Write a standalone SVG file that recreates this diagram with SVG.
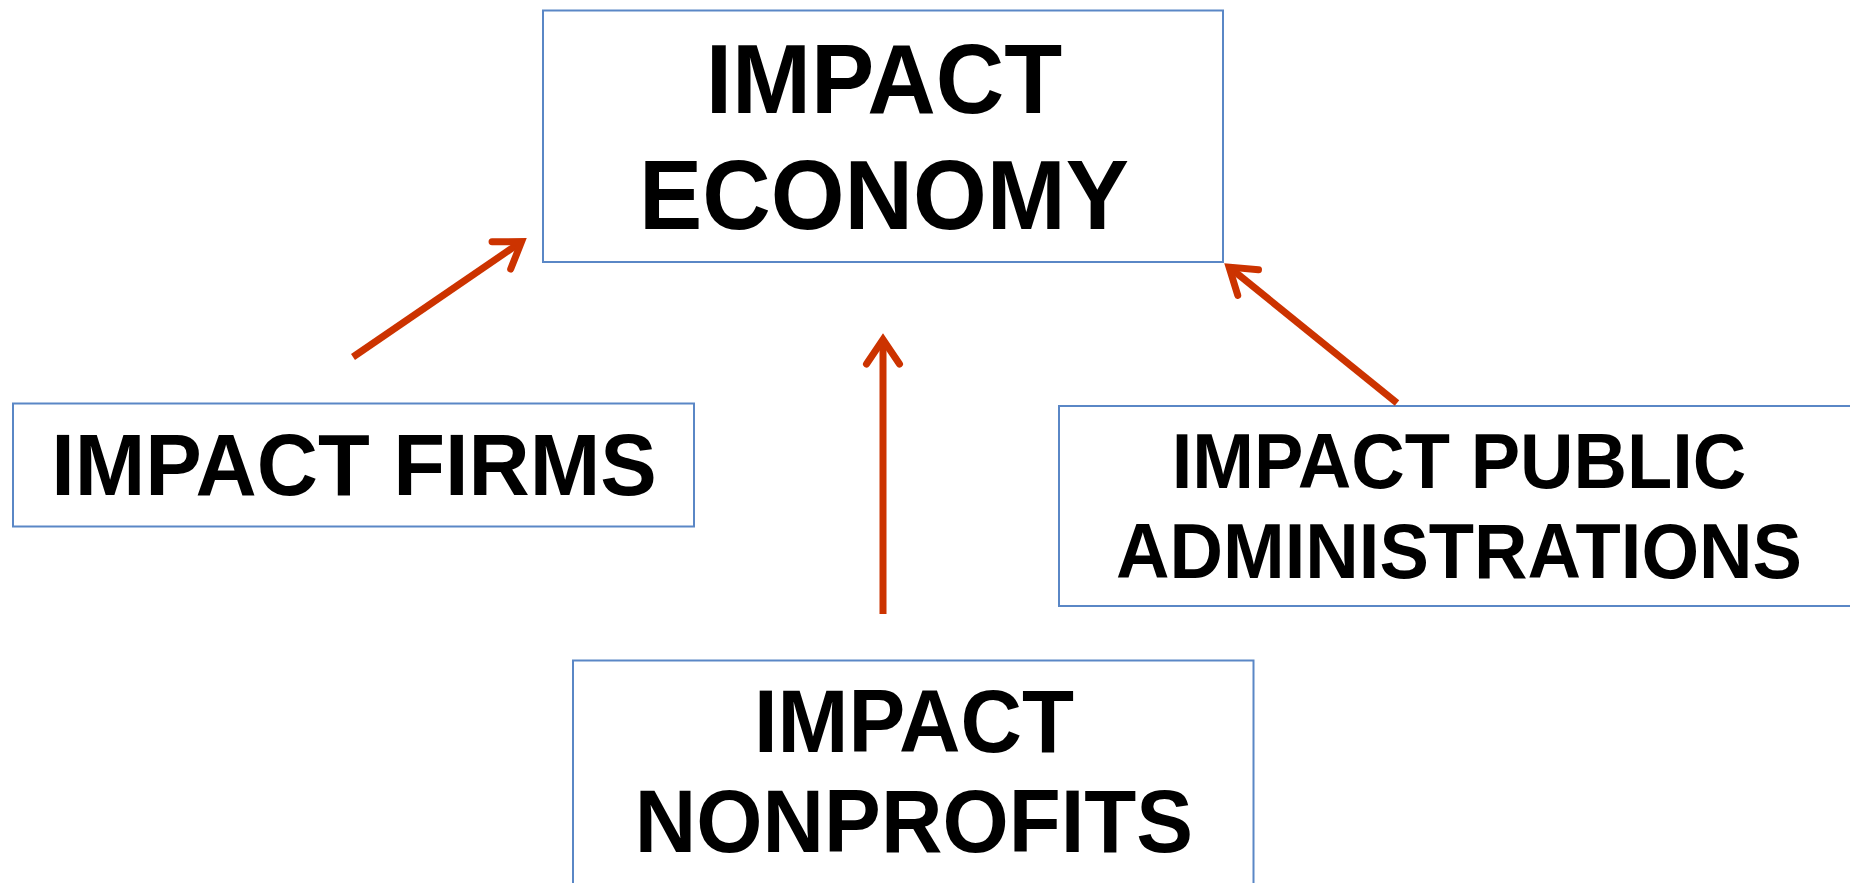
<svg xmlns="http://www.w3.org/2000/svg" width="1850" height="883" viewBox="0 0 1850 883">
<style>
.box{fill:#fff;stroke:#5A87C6;stroke-width:2}
.lbl{font-family:"Liberation Sans",Arial,sans-serif;font-weight:bold;fill:#000;text-anchor:middle}
.conn{stroke:#CC3300;stroke-width:7;fill:none;marker-end:url(#arr)}
</style>
<defs>
<marker id="arr" markerUnits="userSpaceOnUse" markerWidth="60" markerHeight="60" refX="-10" refY="0" orient="auto" overflow="visible" viewBox="-40 -30 60 60">
<path d="M -31,-16.5 L -6.5,0 L -31,16.5" fill="none" stroke="#CC3300" stroke-width="7" stroke-linecap="round" stroke-linejoin="miter" stroke-miterlimit="10"/>
</marker>
</defs>
<rect width="1850" height="883" fill="#fff"/>
<g id="node-economy">
<rect class="box" x="543" y="10.5" width="680" height="251.5"/>
<g transform="translate(884 0) scale(0.958 1)">
<text class="lbl" font-size="99" x="0" y="113">IMPACT</text>
<text class="lbl" font-size="99" x="0" y="229">ECONOMY</text>
</g>
</g>
<g id="node-firms">
<rect class="box" x="13" y="403.5" width="681" height="123"/>
<g transform="translate(354 0) scale(0.963 1)">
<text class="lbl" font-size="88" x="0" y="495">IMPACT FIRMS</text>
</g>
</g>
<g id="node-public">
<rect class="box" x="1059" y="406" width="820" height="200"/>
<g transform="translate(1459 0) scale(0.962 1)">
<text class="lbl" font-size="77" x="0" y="488">IMPACT PUBLIC</text>
<text class="lbl" font-size="77" x="0" y="578">ADMINISTRATIONS</text>
</g>
</g>
<g id="node-nonprofits">
<rect class="box" x="573" y="660.5" width="680.5" height="260"/>
<g transform="translate(914 0) scale(0.957 1)">
<text class="lbl" font-size="89" x="0" y="752">IMPACT</text>
<text class="lbl" font-size="89" x="0" y="852">NONPROFITS</text>
</g>
</g>
<g id="connectors">
<line class="conn" x1="353" y1="357" x2="518.7" y2="243.6"/>
<line class="conn" x1="883" y1="614" x2="883" y2="343"/>
<line class="conn" x1="1397" y1="403" x2="1231.8" y2="269.3"/>
</g>
</svg>
